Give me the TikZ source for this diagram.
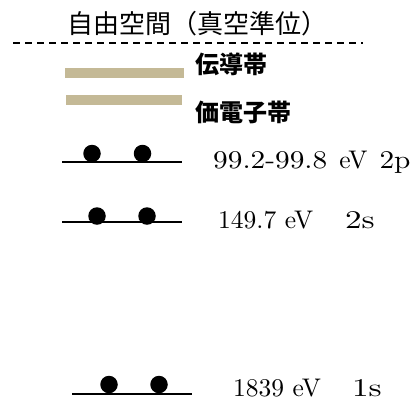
\documentclass[tikz,border=0pt]{standalone}
\usepackage{fontspec}
\newfontfamily\cjk{Noto Sans CJK JP}
\definecolor{bandc}{HTML}{C4B996}
\newcommand\bigtxt[1]{\scalebox{2.55}{#1}}
\newcommand\widetxt[2]{\scalebox{#1}[1]{\scalebox{2.55}{#2}}}
\begin{document}
\begin{tikzpicture}[x=1pt,y=-1pt,
  band/.style={fill=bandc, draw=none, inner sep=0pt, minimum height=10pt},
  level/.style={line width=1.6pt},
  electron/.style={circle, fill=black, draw=none, inner sep=0pt, minimum size=17.5pt},
  energy/.style={anchor=base west, inner sep=0pt, font=\fontsize{10}{12}\selectfont},
  cjklabel/.style={anchor=west, inner sep=0pt, font=\cjk\bfseries\fontsize{24}{28}\selectfont}]
\useasboundingbox (0,0) rectangle (414,408);
% title and vacuum level
\node[anchor=center, inner sep=0pt, font=\cjk\fontsize{26}{30}\selectfont] (title) at (197,23.5) {自由空間（真空準位）};
\coordinate (vl) at (13,43);
\coordinate (vr) at (363,43);
\draw[dash pattern=on 7pt off 5pt, line width=1.2pt] (vl) -- (vr);
% bands
\node[band, minimum width=119pt] (cb) at (124.5,73) {};
\node[band, minimum width=116pt] (vb) at (124,100) {};
\node[cjklabel] (cbl) at (195,64) {伝導帯};
\node[cjklabel] (vbl) at (195,112) {価電子帯};
% 2p
\coordinate (p2l) at (62,162);
\coordinate (p2r) at (182,162);
\draw[level] (p2l) -- (p2r);
\node[electron] (p2a) at (92,153.5) {};
\node[electron] (p2b) at (142.5,153.5) {};
\node[energy] (t2p) at (213,168) {\widetxt{1.15}{99.2-99.8}\hspace{12pt}\bigtxt{eV}\hspace{12pt}\widetxt{1.15}{2p}};
% 2s
\coordinate (s2l) at (62,222);
\coordinate (s2r) at (182,222);
\draw[level] (s2l) -- (s2r);
\node[electron] (s2a) at (97,216) {};
\node[electron] (s2b) at (147,216) {};
\node[energy] (t2s) at (218,228) {\bigtxt{149.7 eV}\hspace{32pt}\widetxt{1.3}{2s}};
% 1s
\coordinate (s1l) at (72,394);
\coordinate (s1r) at (192,394);
\draw[level] (s1l) -- (s1r);
\node[electron] (s1a) at (109,384.5) {};
\node[electron] (s1b) at (159,384.5) {};
\node[energy] (t1s) at (233,396) {\bigtxt{1839 eV}\hspace{31pt}\widetxt{1.3}{1s}};
\end{tikzpicture}
\end{document}
